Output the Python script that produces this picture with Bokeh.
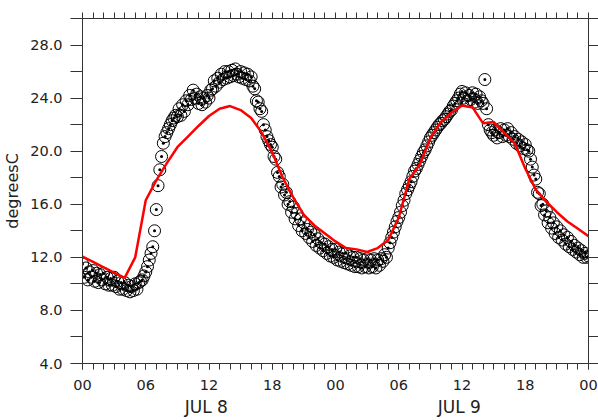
from bokeh.plotting import figure
from bokeh.models import Range1d, LinearAxis, FixedTicker
from bokeh.embed import file_html
from bokeh.resources import INLINE

# ---- data -------------------------------------------------------------
hour_ticks = [0, 6, 12, 18, 24, 30, 36, 42, 48]
hour_labels = ["00", "06", "12", "18", "00", "06", "12", "18", "00"]
day_ticks = [12, 36]
day_labels = ["JUL  8", "JUL  9"]
day_bounds = [0, 24, 48]
hours_all = list(range(0, 49))
y_label_ticks = [4, 8, 12, 16, 20, 24, 28]
y_labels = ["4.0", "8.0", "12.0", "16.0", "20.0", "24.0", "28.0"]
y_minor_ticks = [6, 10, 14, 18, 22, 26, 30]
y_all_ticks = [4, 6, 8, 10, 12, 14, 16, 18, 20, 22, 24, 26, 28, 30]

# model temperature, hourly (00 Jul 8 .. 00 Jul 10)
model_temp = [12.05, 11.65, 11.25, 10.85, 10.45, 12.0, 16.3, 17.8, 19.1, 20.3,
              21.1, 21.9, 22.65, 23.2, 23.4, 23.1, 22.5, 21.4, 19.9, 18.0,
              16.5, 15.2, 14.4, 13.8, 13.2, 12.7, 12.6, 12.4, 12.7, 13.3,
              15.0, 17.9, 19.0, 21.0, 22.2, 22.9, 23.45, 23.3, 22.1, 22.2,
              21.4, 20.6, 18.7, 17.1, 16.2, 15.4, 14.7, 14.15, 13.6]

# observed temperature, every 10 minutes
obs_temp = [
    11.5, 10.5, 11.2, 10.3, 10.9, 10.5,   # h0
    11.0, 10.2, 10.8, 10.1, 10.7, 10.3,   # h1
    10.8, 10.0, 10.5, 9.9, 10.4, 9.9,     # h2
    10.5, 9.8, 10.2, 9.6, 10.1, 9.6,      # h3
    10.1, 9.5, 9.9, 9.4, 9.8, 9.5,        # h4
    10.0, 9.6, 10.1, 10.2, 10.3, 10.6,    # h5
    10.9, 11.3, 11.8, 12.3, 12.8, 14.0,   # h6
    15.6, 17.4, 18.6, 19.6, 20.6, 21.1,   # h7
    21.4, 21.7, 22.0, 22.3, 22.5, 22.7,   # h8
    22.6, 23.2, 22.7, 23.5, 23.0, 23.8,   # h9
    23.5, 24.2, 23.9, 24.6, 24.0, 24.3,   # h10
    23.6, 24.1, 23.5, 24.0, 23.7, 24.2,   # h11
    24.0, 24.6, 24.7, 25.3, 24.9, 25.5,   # h12
    25.2, 25.8, 25.4, 26.0, 25.5, 26.0,   # h13
    25.6, 26.1, 25.7, 26.2, 25.8, 25.6,   # h14
    26.0, 25.5, 25.9, 25.4, 25.8, 25.3,   # h15
    25.6, 24.9, 24.7, 23.8, 23.7, 23.2,   # h16
    23.0, 22.0, 21.6, 21.1, 20.8, 20.5,   # h17
    20.3, 19.6, 19.4, 18.4, 18.1, 17.3,   # h18
    17.5, 16.7, 16.9, 16.0, 16.2, 15.4,   # h19
    15.8, 14.9, 15.3, 14.4, 14.9, 14.0,   # h20
    14.6, 13.8, 14.1, 13.5, 13.9, 13.2,   # h21
    13.7, 12.9, 13.4, 12.7, 13.1, 12.5,   # h22
    13.0, 12.3, 12.8, 12.1, 12.6, 12.0,   # h23
    12.6, 11.8, 12.4, 11.7, 12.3, 11.6,   # h24
    12.3, 11.5, 12.1, 11.4, 12.0, 11.3,   # h25
    12.0, 11.3, 11.9, 11.2, 11.8, 11.3,   # h26
    11.9, 11.2, 11.8, 11.3, 11.9, 11.2,   # h27
    11.8, 11.4, 11.9, 11.7, 12.2, 12.0,   # h28
    12.7, 13.1, 13.5, 13.9, 14.3, 14.7,   # h29
    15.0, 15.4, 15.9, 16.3, 16.8, 17.1,   # h30
    17.4, 17.7, 18.1, 18.5, 18.7, 19.0,   # h31
    19.3, 19.6, 19.9, 20.1, 20.4, 20.7,   # h32
    21.0, 21.2, 21.4, 21.6, 21.8, 22.0,   # h33
    22.1, 22.3, 22.4, 22.6, 22.8, 23.0,   # h34
    23.1, 23.4, 23.6, 23.8, 24.0, 24.3,   # h35
    24.5, 24.0, 24.4, 23.8, 24.2, 23.9,   # h36
    24.4, 23.7, 24.3, 23.6, 24.1, 23.8,   # h37
    23.6, 25.4, 23.2, 22.0, 21.6, 21.4,   # h38
    21.2, 21.6, 21.0, 21.4, 21.7, 21.1,   # h39
    21.6, 21.2, 21.7, 21.1, 21.4, 20.9,   # h40
    21.1, 20.6, 20.9, 20.4, 20.7, 20.2,   # h41
    20.5, 20.1, 20.0, 19.4, 18.8, 18.2,   # h42
    17.9, 16.9, 16.8, 15.9, 16.0, 15.2,   # h43
    15.5, 14.6, 15.0, 14.2, 14.6, 13.8,   # h44
    14.3, 13.5, 14.0, 13.3, 13.7, 13.0,   # h45
    13.5, 12.8, 13.2, 12.6, 12.9, 12.4,   # h46
    12.7, 12.2, 12.5, 12.0, 12.3, 12.0,   # h47
    12.1,                                 # h48
]

model_hour = list(range(len(model_temp)))
obs_hour = [i / 6 for i in range(len(obs_temp))]

# ---- styling ------------------------------------------------------------
AX = "#333333"
TXT = "#222222"
FONT = "DejaVu Sans"

X0, X1, Y0, Y1 = 0, 48, 4, 30
p = figure(width=598, height=420, x_range=Range1d(X0, X1), y_range=Range1d(Y0, Y1),
           toolbar_location=None, output_backend="svg",
           x_axis_location=None, y_axis_location=None,
           min_border_left=82, min_border_right=10, min_border_top=18,
           min_border_bottom=57)
p.grid.grid_line_color = None
p.outline_line_color = None
p.background_fill_color = "white"
p.border_fill_color = "white"


def style(ax):
    ax.axis_line_color = AX
    ax.major_tick_line_color = AX
    ax.minor_tick_line_color = AX
    ax.major_tick_in = 0
    ax.minor_tick_in = 0
    ax.major_label_text_font = FONT
    ax.major_label_text_color = TXT
    return ax


def tick_only(minor_ticks, out_len=0, in_len=0, line=True, loc=None):
    """axis without labels: only minor ticks are drawn"""
    ax = style(LinearAxis(ticker=FixedTicker(ticks=[], minor_ticks=minor_ticks)))
    ax.major_tick_out = 0
    ax.minor_tick_out = out_len
    ax.minor_tick_in = in_len
    ax.major_label_standoff = 0
    if loc is not None:
        ax.fixed_location = loc
    if not line:
        ax.axis_line_color = None
    return ax


# bottom: hour labels
ax_b = style(LinearAxis(ticker=FixedTicker(ticks=hour_ticks, minor_ticks=hours_all)))
ax_b.major_label_overrides = {t: s for t, s in zip(hour_ticks, hour_labels)}
ax_b.major_tick_out = 6
ax_b.minor_tick_out = 6
ax_b.major_label_standoff = 10
ax_b.major_label_text_font_size = "14.5px"
p.add_layout(ax_b, "below")

# bottom: day labels
ax_d = LinearAxis(ticker=FixedTicker(ticks=day_ticks, minor_ticks=[]))
ax_d.major_label_overrides = {t: s for t, s in zip(day_ticks, day_labels)}
ax_d.axis_line_color = None
ax_d.major_tick_line_color = None
ax_d.minor_tick_line_color = None
ax_d.major_tick_out = 0
ax_d.major_tick_in = 0
ax_d.major_label_standoff = 4
ax_d.major_label_text_font = FONT
ax_d.major_label_text_color = TXT
ax_d.major_label_text_font_size = "17px"
p.add_layout(ax_d, "below")

# top: hourly ticks
p.add_layout(tick_only(hours_all, out_len=6), "above")
# long day-boundary ticks: drawn at the frame edges, pointing outward
# (an "above" axis pinned to the bottom edge with inward ticks, and vice versa)
p.add_layout(tick_only(day_bounds, in_len=12, line=False, loc=Y0), "above")
p.add_layout(tick_only(day_bounds, in_len=14, line=False, loc=Y1), "below")

# left
ax_l = style(LinearAxis(ticker=FixedTicker(ticks=y_label_ticks, minor_ticks=y_minor_ticks)))
ax_l.major_label_overrides = {t: s for t, s in zip(y_label_ticks, y_labels)}
ax_l.major_tick_out = 12
ax_l.minor_tick_out = 12
ax_l.major_label_standoff = 8
ax_l.major_label_text_font_size = "14.5px"
ax_l.axis_label = "degreesC"
ax_l.axis_label_text_font = FONT
ax_l.axis_label_text_font_style = "normal"
ax_l.axis_label_text_font_size = "16px"
ax_l.axis_label_text_color = TXT
ax_l.axis_label_standoff = 5
p.add_layout(ax_l, "left")

# right
p.add_layout(tick_only(y_all_ticks, out_len=10), "right")

# data
p.scatter(obs_hour, obs_temp, marker="circle_dot", size=12, fill_color=None,
          line_color="black", line_width=1)
p.line(model_hour, model_temp, line_color="#ff0000", line_width=2.5)

open("out.html", "w").write(file_html(p, INLINE))
